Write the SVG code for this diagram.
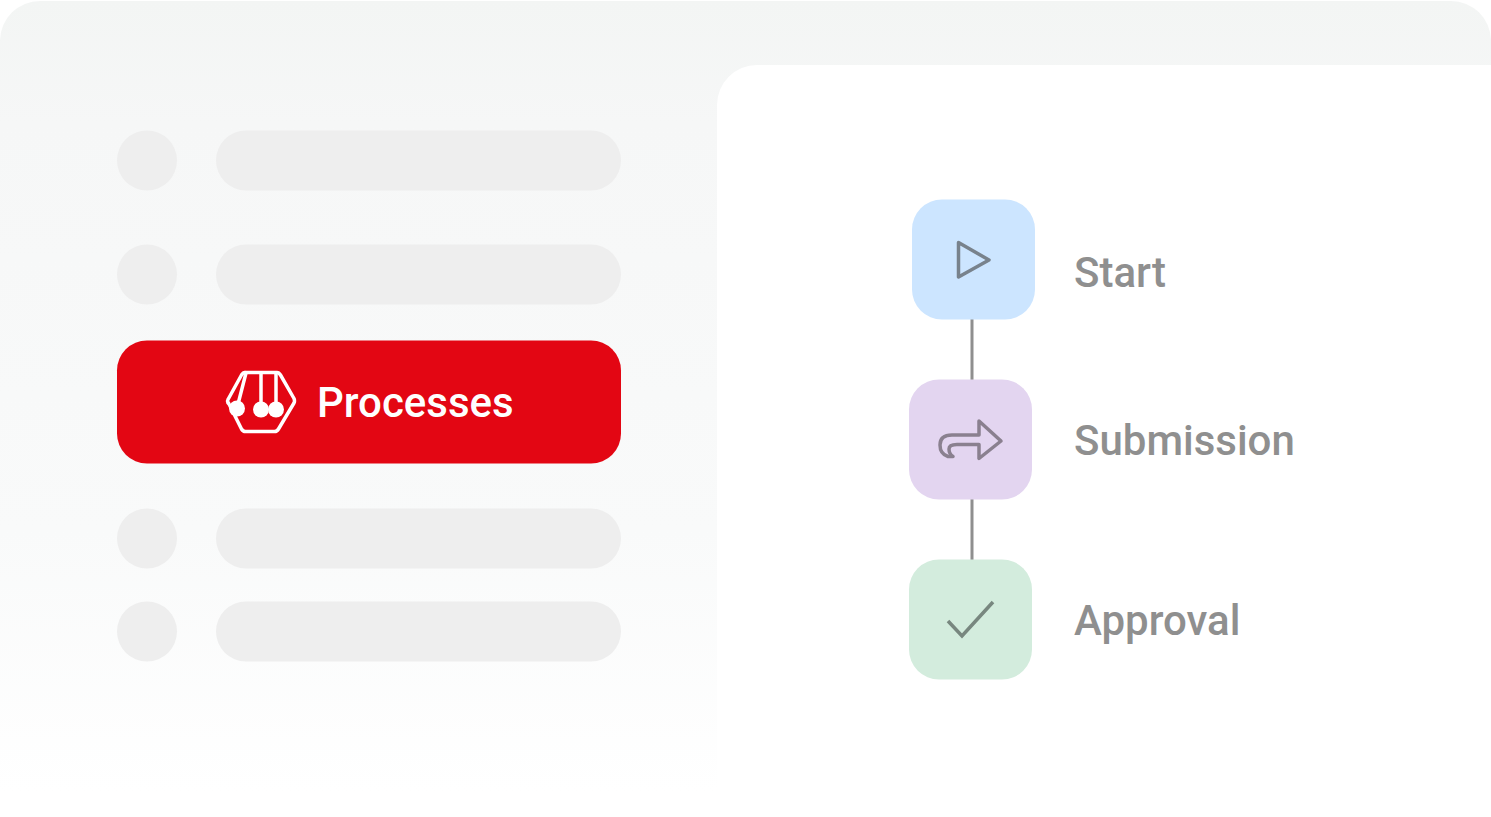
<svg xmlns="http://www.w3.org/2000/svg" width="1491" height="817" viewBox="0 0 1491 817">
<style>
.dot{fill:#eeeeee}
.bar{fill:#eeeeee}
.lbl{font-family:Roboto,"Liberation Sans",sans-serif;font-size:42px;font-weight:500;fill:#8f8f8f;opacity:.995}
.ic{fill:none;stroke-linejoin:round;stroke-linecap:round}
</style>
<defs>
<linearGradient id="bg" x1="0" y1="0" x2="0" y2="1"><stop offset="0" stop-color="#f3f5f4"/><stop offset="0.15" stop-color="#f6f7f7"/><stop offset="0.65" stop-color="#f9fafa"/><stop offset="0.97" stop-color="#ffffff"/></linearGradient>
</defs>
<rect width="1491" height="817" fill="#fff"/>
<path d="M0 817V40A40 40 0 0 1 40 1H1451A40 40 0 0 1 1491 40V817Z" fill="url(#bg)"/>
<path d="M717 817V105A40 40 0 0 1 757 65H1491V817Z" fill="#fff"/>
<g id="item-1"><circle class="dot" cx="147" cy="160.500" r="30"/><rect class="bar" x="216" y="130.500" width="405" height="60" rx="30"/></g>
<g id="item-2"><circle class="dot" cx="147" cy="274.500" r="30"/><rect class="bar" x="216" y="244.500" width="405" height="60" rx="30"/></g>
<g id="processes">
<rect x="117" y="340.500" width="504" height="123" rx="30" fill="#e30613"/>
<g class="ic" stroke="#fff" stroke-width="3.500">
<path d="M245 372.500H277Q279 372.500 280.500 375L294 398.500Q295 401 294 403L278.500 429Q277 431.500 274.500 431.500H245.500Q243 431.500 241.500 429L228.500 403"/>
<path d="M245 372.500Q243 372.500 241.500 375L228 399.500Q227 401 228 403"/>
<path d="M246 373L237 408M261 373V410M276 373V410"/>
</g>
<circle cx="237" cy="408.500" r="8" fill="#fff"/><circle cx="261" cy="409.500" r="8" fill="#fff"/><circle cx="276" cy="409.500" r="8" fill="#fff"/>
<text x="317" y="417" font-family="Roboto,'Liberation Sans',sans-serif" font-size="42" font-weight="500" fill="#fff" opacity=".995">Processes</text>
</g>
<g id="item-3"><circle class="dot" cx="147" cy="538.500" r="30"/><rect class="bar" x="216" y="508.500" width="405" height="60" rx="30"/></g>
<g id="item-4"><circle class="dot" cx="147" cy="631.500" r="30"/><rect class="bar" x="216" y="601.500" width="405" height="60" rx="30"/></g>
<g id="connectors" stroke="#8f8f8f" stroke-width="3" fill="none">
<path d="M972 319V380"/><path d="M972 499V560"/>
</g>
<g id="start">
<rect x="912" y="199.500" width="123" height="120" rx="30" fill="#cce5ff"/>
<path class="ic" d="M958.500 242.500L989 260L958.500 277Z" stroke="#78828c" stroke-width="3.500"/>
<text class="lbl" x="1074" y="286.500">Start</text>
</g>
<g id="submission">
<rect x="909" y="379.500" width="123" height="120" rx="30" fill="#e3d5f0"/>
<path class="ic" d="M953 456.500H948Q940 454 940 445Q940 435 952 435H979V421L1001 441L979 458.500V444.500H957Q949 444.500 949 449Q949 454 953 456.500Z" stroke="#8a808f" stroke-width="3.500"/>
<text class="lbl" x="1074" y="454.500">Submission</text>
</g>
<g id="approval">
<rect x="909" y="559.500" width="123" height="120" rx="30" fill="#d3ecdd"/>
<path d="M948 621L962 636L993 602" fill="none" stroke="#78877f" stroke-width="3.500"/>
<text class="lbl" x="1074" y="634.500">Approval</text>
</g>
</svg>
